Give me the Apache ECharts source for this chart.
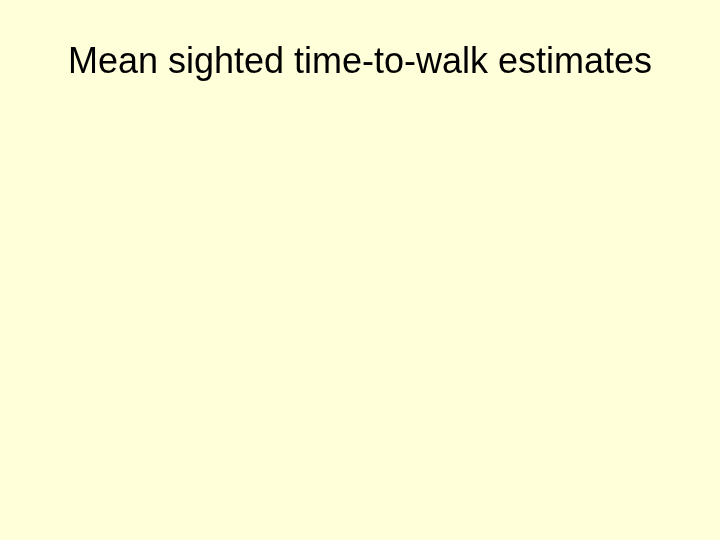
<!DOCTYPE html>
<html>
<head>
<meta charset="utf-8">
<title>Mean sighted time-to-walk estimates</title>
<script src="https://cdn.jsdelivr.net/npm/echarts@6/dist/echarts.min.js"></script>
<style>
    html, body { margin: 0; padding: 0; background: #ffffda; }
    #main { width: 720px; height: 540px; }
</style>
</head>
<body>
<div id="main"></div>
<script>
// the slide carries only its heading, no plotted values
var titleText = 'Mean sighted time-to-walk estimates';
var categories = [];
var values = [];

var myChart = echarts.init(document.getElementById('main'));
myChart.setOption({
    backgroundColor: '#ffffda',
    animation: false,
    title: {
        text: titleText,
        left: 'center',
        top: 40,
        textStyle: {
            fontFamily: 'Liberation Sans, Arial, sans-serif',
            fontSize: 36,
            fontWeight: 'normal',
            color: '#000000'
        }
    },
    series: []
});
</script>
</body>
</html>
